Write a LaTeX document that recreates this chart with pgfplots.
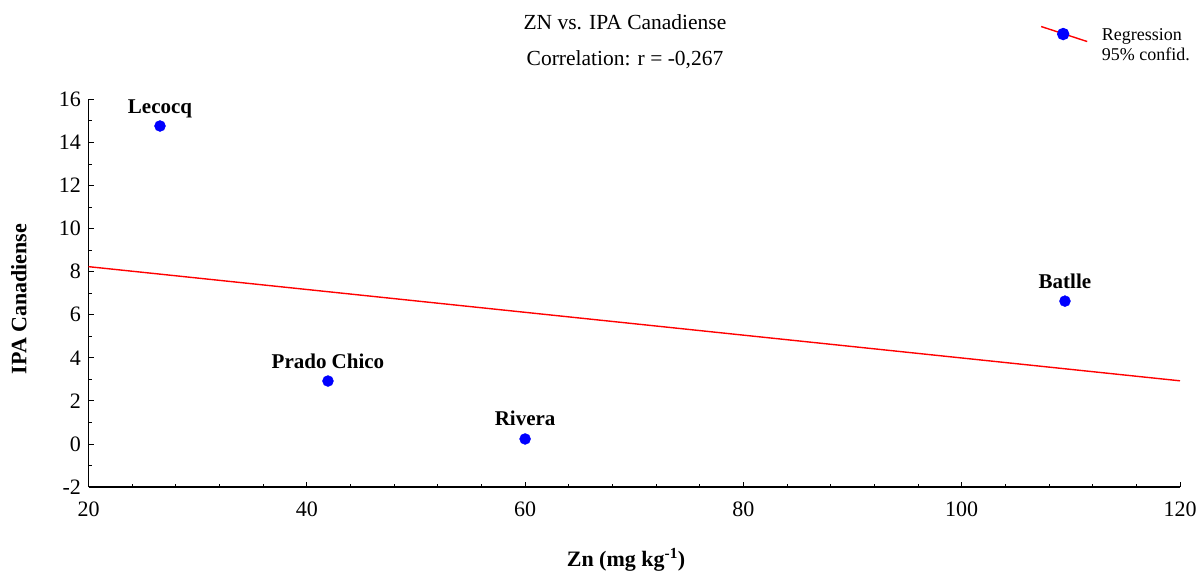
\documentclass[border=0pt]{standalone}
\usepackage{fontspec}
\setmainfont{Liberation Serif}
\usepackage{pgfplots}
\pgfplotsset{compat=1.18}
\begin{document}
\begin{tikzpicture}
\useasboundingbox (0,0) rectangle (1204pt,573pt);
\begin{axis}[
  at={(88.5pt,86pt)}, anchor=south west,
  scale only axis, width=1091.5pt, height=387.7pt,
  xmin=20, xmax=120, ymin=-2, ymax=16,
  axis lines=left, axis line style={-, line width=1.2pt},
  xtick={20,40,...,120}, ytick={-2,0,...,16},
  minor x tick num=4, minor y tick num=1,
  tick align=inside, major tick length=5pt, minor tick length=3pt,
  tick style={black, line width=0.8pt},
  /pgf/number format/assume math mode=true,
  /pgf/number format/1000 sep={},
  ticklabel style={font=\fontsize{22}{24}\selectfont},
  xticklabel style={yshift=-11pt},
  yticklabel style={xshift=-4pt},
  xlabel={\textbf{Zn (mg kg\textsuperscript{-1})}},
  ylabel={\textbf{IPA Canadiense}},
  label style={font=\fontsize{22}{24}\selectfont},
  xlabel style={at={(axis description cs:0.4925,-0.188)}, anchor=center},
  ylabel style={at={(axis description cs:-0.0637,0.485)}, anchor=center},
  clip=false,
  legend style={draw=none, fill=none, at={(axis description cs:0.872,1.19)}, anchor=north west,
    font=\fontsize{18}{20}\selectfont, row sep=2pt, inner sep=0pt, cells={anchor=west}},
]
\addplot[only marks, mark=*, mark size=5.5pt, mark options={fill=blue, draw=blue},
  nodes near coords, point meta=explicit symbolic,
  every node near coord/.style={anchor=base, yshift=13pt, font=\fontsize{21}{23}\selectfont\bfseries, black},
  forget plot]
  table[meta=label] {
x y label
26.55 14.76 Lecocq
41.94 2.92 {Prado Chico}
60.00 0.23 Rivera
109.46 6.63 Batlle
};
\addplot[red, line width=1.4pt,
  legend image code/.code={
    \draw[red, line width=1.4pt] (0pt,9pt) -- (46pt,-6pt);
    \fill[blue] (22pt,1.5pt) circle (5.5pt);
    \path (58pt,0pt);
  }] coordinates {(20,8.23) (120,2.93)};
\addlegendentry{Regression}
\addlegendimage{empty legend}
\addlegendentry{95\% confid.}
\node[font=\fontsize{21.5}{23}\selectfont] at (axis description cs:0.4915,1.199) {ZN vs. IPA Canadiense};
\node[font=\fontsize{21.5}{23}\selectfont] at (axis description cs:0.4915,1.101) {Correlation: r = -0,267};
\end{axis}
\end{tikzpicture}
\end{document}
